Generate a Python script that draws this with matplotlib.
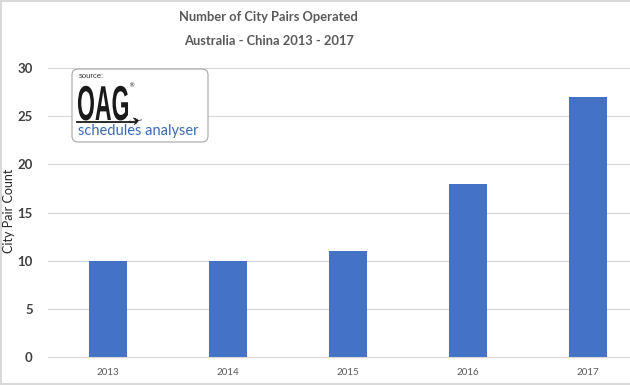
'''
Bar chart of Australia - China city pairs operated, 2013-2017.
'''

import matplotlib
matplotlib.use('Agg')
import matplotlib.pyplot as plt
from matplotlib.patches import FancyBboxPatch, PathPatch
from matplotlib.lines import Line2D
from matplotlib.textpath import TextPath
from matplotlib.font_manager import FontProperties
from matplotlib.transforms import Affine2D, IdentityTransform

years = ['2013', '2014', '2015', '2016', '2017']
city_pairs = [10, 10, 11, 18, 27]
y_ticks = [0, 5, 10, 15, 20, 25, 30]

bar_color = '#4472C4'
grid_color = '#D9D9D9'
text_color = '#595959'

W, H = 630, 385
plt.rcParams['font.family'] = ['Lato', 'DejaVu Sans']

fig = plt.figure(figsize=(W / 100, H / 100), dpi=100)
ax = fig.add_axes([48 / W, 28 / H, 600 / W, 289 / H])

x = range(len(years))
ax.bar(x, city_pairs, width=0.32, color=bar_color, zorder=3)

ax.set_xlim(-0.5, len(years) - 0.5)
ax.set_ylim(0, 30)
ax.set_yticks(y_ticks)
ax.set_xticks(list(x))
ax.set_xticklabels(years, fontsize=7, color=text_color)
ax.set_yticklabels([str(t) for t in y_ticks], fontsize=9.5, fontweight='bold', color='#404040')
ax.tick_params(axis='y', length=0, pad=11)
ax.tick_params(axis='x', length=0, pad=8)
ax.grid(axis='y', color=grid_color, linewidth=0.9, zorder=0)
for side in ['top', 'right', 'left']:
    ax.spines[side].set_visible(False)
ax.spines['bottom'].set_color(grid_color)

fig.text(9 / W, (H - 211) / H, 'City Pair Count', rotation=90,
         ha='center', va='center', fontsize=9, color='#262626')

# Title is centred left of the figure middle, as in the source image
fig.text(268 / W, (H - 17) / H, 'Number of City Pairs Operated', ha='center', va='center',
         fontsize=9.3, fontweight='bold', color=text_color)
fig.text(269 / W, (H - 41) / H, 'Australia - China 2013 - 2017', ha='center', va='center',
         fontsize=9.3, fontweight='bold', color=text_color)

# Source logo box (pixel coordinates, origin bottom-left)
logo = FancyBboxPatch((72, H - 142), 136, 73,
                      boxstyle='round,pad=0,rounding_size=6',
                      transform=IdentityTransform(), facecolor='white',
                      edgecolor='#A6A6A6', linewidth=0.8, zorder=5)
fig.patches.append(logo)
fig.text(79 / W, (H - 77) / H, 'source:', fontsize=5.5, color='#333333',
         va='center', family=['Liberation Sans'], zorder=6)

oag = TextPath((0, 0), 'OAG', size=49, prop=FontProperties(family='Liberation Sans', weight='bold'))
oag_tf = Affine2D().scale(0.47, 1.0).translate(77, H - 120) + IdentityTransform()
fig.patches.append(PathPatch(oag, transform=oag_tf, facecolor='#1A1A1A',
                             edgecolor='none', zorder=6))
fig.text(128 / W, (H - 86) / H, '®', fontsize=4.5, color='#1A1A1A', va='center',
         family=['DejaVu Sans'], zorder=6)
fig.lines.append(Line2D([77, 134], [H - 122, H - 122], transform=IdentityTransform(),
                        color='#1A1A1A', linewidth=1.3, zorder=6))
plane = TextPath((0, 0), '✈', size=15, prop=FontProperties(family='DejaVu Sans'))
plane_tf = Affine2D().scale(1.2, 0.7).rotate_deg(10).translate(129, H - 126) + IdentityTransform()
fig.patches.append(PathPatch(plane, transform=plane_tf, facecolor='#1A1A1A',
                             edgecolor='none', zorder=6))
fig.text(78 / W, (H - 131) / H, 'schedules analyser', fontsize=10.5,
         color='#3A6BB5', va='center', zorder=6)

# Chart border lines
for yy in [1, H - 1]:
    fig.lines.append(Line2D([0, W], [yy, yy], transform=IdentityTransform(),
                            color='#D9D9D9', linewidth=1.5))
fig.lines.append(Line2D([1, 1], [0, H], transform=IdentityTransform(),
                        color='#D9D9D9', linewidth=1.5))

plt.savefig('out.png', dpi=100)
